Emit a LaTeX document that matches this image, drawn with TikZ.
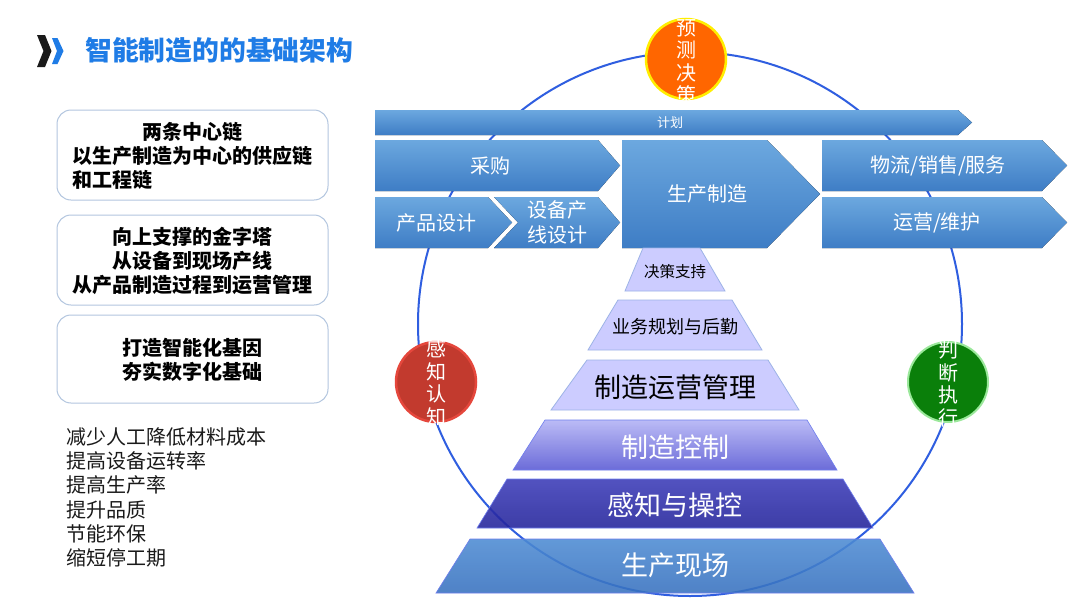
\documentclass[tikz,border=0pt]{standalone}
\usepackage{fontspec}
\setmainfont{Noto Sans CJK SC}
\newcommand{\myfs}[2]{\fontsize{#1}{#2}\selectfont}
\definecolor{titleblue}{HTML}{1F7CE6}
\definecolor{ringblue}{HTML}{2F5EE0}
\definecolor{chevtop}{HTML}{6CA8DF}
\definecolor{chevbot}{HTML}{3E7DC5}
\definecolor{lav}{HTML}{CCCCFF}
\definecolor{lavborder}{HTML}{9DB3E6}
\definecolor{ctrltop}{HTML}{B2B2F5}
\definecolor{ctrlbot}{HTML}{5858D4}
\definecolor{sensetop}{HTML}{3B3BB8}
\definecolor{sensebot}{HTML}{22229A}
\definecolor{sitetop}{HTML}{4D8BD3}
\definecolor{sitebot}{HTML}{3771BF}
\definecolor{boxborder}{HTML}{B3C6DF}
\definecolor{orangefill}{HTML}{FF6600}
\definecolor{yellowborder}{HTML}{FFEE00}
\definecolor{redfill}{HTML}{C23A2E}
\definecolor{redborder}{HTML}{E5473C}
\definecolor{greenfill}{HTML}{0A7F0A}
\definecolor{greenborder}{HTML}{9BE89B}
\definecolor{listtext}{HTML}{1A1A1A}
\definecolor{icondark}{HTML}{1A1A1A}
\begin{document}
\begin{tikzpicture}[x=1pt,y=-1pt,
  chev/.style={top color=chevtop,bottom color=chevbot,draw=none},
  chevtext/.style={text=white,font=\myfs{20}{25},align=center,inner sep=0pt},
  pyrlight/.style={fill=lav,draw=lavborder,line width=0.8pt},
  pyrdark/.style={draw=lavborder!70!blue,line width=0.6pt,fill opacity=0.88},
  darktext/.style={text=black,inner sep=0pt},
  whitetext/.style={text=white,inner sep=0pt},
  sidebox/.style={draw=boxborder,line width=1pt,rounded corners=14pt,minimum width=271pt,fill=white,inner sep=0pt},
  boxtext/.style={font=\myfs{20}{24}\bfseries,text=black,inner sep=0pt},
  badge/.style={circle,minimum size=80pt,inner sep=0pt,line width=2.5pt},
  vlabel/.style={text=white,font=\myfs{20}{22.5},align=center,inner sep=0pt}
]
\useasboundingbox (0,0) rectangle (1080,608);
\fill[white] (0,0) rectangle (1080,608);

% title
\fill[icondark] (37,35) -- (45,35) -- (51.5,51) -- (45,67) -- (37,67) -- (43.5,51) -- cycle;
\fill[titleblue] (52,38) -- (57.5,38) -- (63.5,51) -- (57.5,64) -- (52,64) -- (57,51) -- cycle;
\node[anchor=west,inner sep=0pt,text=titleblue,font=\myfs{26.8}{30}\bfseries] (title) at (85,50) {智能制造的的基础架构};

% ring
\node[circle,draw=ringblue,line width=2pt,minimum size=544pt,inner sep=0pt] (ring) at (690,324) {};

% chevrons
\fill[chev] (375,110) -- (958,110) -- (972,122.5) -- (958,135) -- (375,135) -- cycle;
\node[whitetext,font=\myfs{13}{15}] (plan) at (670,122.5) {计划};

\fill[chev] (375,140) -- (598,140) -- (620,165.5) -- (598,191) -- (375,191) -- cycle;
\node[chevtext] (purchase) at (490,165.5) {采购};

\fill[chev] (622,140) -- (767,140) -- (820,194) -- (767,248) -- (622,248) -- cycle;
\node[chevtext] (production) at (707,194) {生产制造};

\fill[chev] (375,197) -- (488,197) -- (512,222.5) -- (488,248) -- (375,248) -- cycle;
\node[chevtext] (design) at (436,222.5) {产品设计};

\fill[chev] (494,197) -- (598,197) -- (620,222.5) -- (598,248) -- (494,248) -- (518,222.5) -- cycle;
\node[chevtext] (linedesign) at (557,222.5) {设备产\\线设计};

\fill[chev] (822,140) -- (1042,140) -- (1067,165.5) -- (1042,191) -- (822,191) -- cycle;
\node[chevtext] (logistics) at (938,165.5) {物流/销售/服务};

\fill[chev] (822,197) -- (1042,197) -- (1067,222.5) -- (1042,248) -- (822,248) -- cycle;
\node[chevtext] (operation) at (937,222.5) {运营/维护};

% pyramid
\filldraw[pyrlight] (643,248) -- (700,248) -- (725,291) -- (625,291) -- cycle;
\node[darktext,font=\myfs{15.5}{18}] (decision) at (675,272) {决策支持};

\filldraw[pyrlight] (618,300) -- (732,300) -- (762,350) -- (588,350) -- cycle;
\node[darktext,font=\myfs{18}{20}] (business) at (675,327) {业务规划与后勤};

\filldraw[pyrlight] (587,360) -- (768,360) -- (799,410) -- (551,410) -- cycle;
\node[darktext,font=\myfs{27}{30}] (opsmgmt) at (675,387) {制造运营管理};

\path[pyrdark,top color=ctrltop,bottom color=ctrlbot] (545,420) -- (807,420) -- (837,470) -- (513,470) -- cycle;
\node[whitetext,font=\myfs{27}{30}] (control) at (675,447) {制造控制};

\path[pyrdark,top color=sensetop,bottom color=sensebot] (507,479) -- (843,479) -- (873,528) -- (477,528) -- cycle;
\node[whitetext,font=\myfs{27}{30}] (sense) at (675,505) {感知与操控};

\path[pyrdark,top color=sitetop,bottom color=sitebot] (470,539) -- (880,539) -- (914,593) -- (436,593) -- cycle;
\node[whitetext,font=\myfs{27}{30}] (site) at (675,565) {生产现场};

% badges
\node[badge,fill=orangefill,draw=yellowborder] (predict) at (686,59) {};
\node[vlabel] (predicttxt) at (686,62) {预\\测\\决\\策};

\node[badge,fill=redfill,draw=redborder] (perceive) at (436,382) {};
\node[vlabel] (perceivetxt) at (436,383) {感\\知\\认\\知};

\node[badge,fill=greenfill,draw=greenborder,line width=2pt] (judge) at (948,382) {};
\node[vlabel] (judgetxt) at (948,384) {判\\断\\执\\行};

% left boxes
\node[sidebox,minimum height=90pt] (box1) at (192.5,155) {};
\node[boxtext,align=left] (box1txt) at (192.5,156) {\makebox[240pt]{两条中心链}\\以生产制造为中心的供应链\\和工程链};

\node[sidebox,minimum height=90pt] (box2) at (192.5,260) {};
\node[boxtext,align=center] (box2txt) at (192.5,261) {向上支撑的金字塔\\从设备到现场产线\\从产品制造过程到运营管理};

\node[sidebox,minimum height=88pt] (box3) at (192.5,359) {};
\node[boxtext,align=center] (box3txt) at (192.5,360) {打造智能化基因\\夯实数字化基础};

% list
\node[anchor=west,align=left,inner sep=0pt,text=listtext,font=\myfs{20}{24.2}] (list) at (66,497.5) {减少人工降低材料成本\\提高设备运转率\\提高生产率\\提升品质\\节能环保\\缩短停工期};
\end{tikzpicture}
\end{document}
